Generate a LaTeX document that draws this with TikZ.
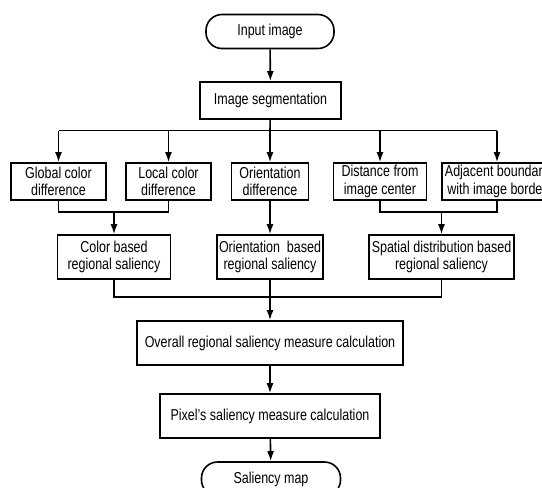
\documentclass[tikz,border=0pt]{standalone}
\usepackage{fontspec}
\setmainfont{Liberation Sans}[FakeStretch=0.79]
\usetikzlibrary{arrows.meta}
\tikzset{
  box/.style={draw, line width=1.6pt, inner sep=0pt, align=center,
    font=\fontsize{15.8}{17.5}\selectfont},
  term/.style={box, rounded corners=16pt},
  arr/.style={line width=1.6pt, -{Latex[length=10pt,width=7pt]}},
  ln/.style={line width=1.6pt}
}
\begin{document}
\begin{tikzpicture}[x=1pt,y=-1pt]
\useasboundingbox (0,0) rectangle (542,488);
\clip (0,0) rectangle (542,488);
\node[term, minimum width=128pt, minimum height=34pt] (in) at (270,31.5) {Input image};
\node[box, minimum width=141pt, minimum height=37pt] (seg) at (270.5,100.5) {Image segmentation};
\node[box, minimum width=95pt, minimum height=37pt] (b1) at (58.5,181.5) {Global color\\difference};
\node[box, minimum width=85pt, minimum height=37pt] (b2) at (168.5,181.5) {Local color\\difference};
\node[box, minimum width=77pt, minimum height=37pt] (b3) at (270,181.5) {Orientation\\difference};
\node[box, minimum width=93pt, minimum height=37pt] (b4) at (380,181.5) {Distance from\\image center};
\node[box, minimum width=110pt, minimum height=37pt] (b5) at (497,181.5) {Adjacent boundary\\with image border};
\node[box, minimum width=113pt, minimum height=44pt] (c1) at (114,257) {Color based\\regional saliency};
\node[box, minimum width=106pt, minimum height=44pt] (c2) at (270,257) {Orientation\ \ based\\regional saliency};
\node[box, minimum width=145pt, minimum height=44pt] (c3) at (441.5,257) {Spatial distribution based\\regional saliency};
\node[box, minimum width=266pt, minimum height=44pt] (ov) at (270,343) {Overall regional saliency measure calculation};
\node[box, minimum width=220pt, minimum height=44pt] (px) at (270,416) {Pixel's saliency measure calculation};
\node[term, minimum width=139pt, minimum height=34pt] (sm) at (271,479) {Saliency map};
\coordinate (bus) at (270,130.5);
\coordinate (j1) at (114,212);
\coordinate (j2) at (441.5,212);
\coordinate (j3) at (270,297);
\draw[arr] (in) -- (seg);
\draw[ln] (seg) -- (bus);
\draw[ln] (bus -| b1) -- (bus -| b5);
\draw[arr] (bus -| b1) -- (b1);
\draw[arr] (bus -| b2) -- (b2);
\draw[arr] (bus) -- (b3);
\draw[arr] (bus -| b4) -- (b4);
\draw[arr] (bus -| b5) -- (b5);
\draw[ln] (b1.south) |- (j1) -| (b2.south);
\draw[ln] (b4.south) |- (j2) -| (b5.south);
\draw[arr] (j1) -- (c1);
\draw[arr] (b3) -- (c2);
\draw[arr] (j2) -- (c3);
\draw[ln] (c1.south) |- (j3) -| (c3.south);
\draw[ln] (c2) -- (j3);
\draw[arr] (j3) -- (ov);
\draw[arr] (ov) -- (px);
\draw[arr] (px) -- (sm);
\end{tikzpicture}
\end{document}
